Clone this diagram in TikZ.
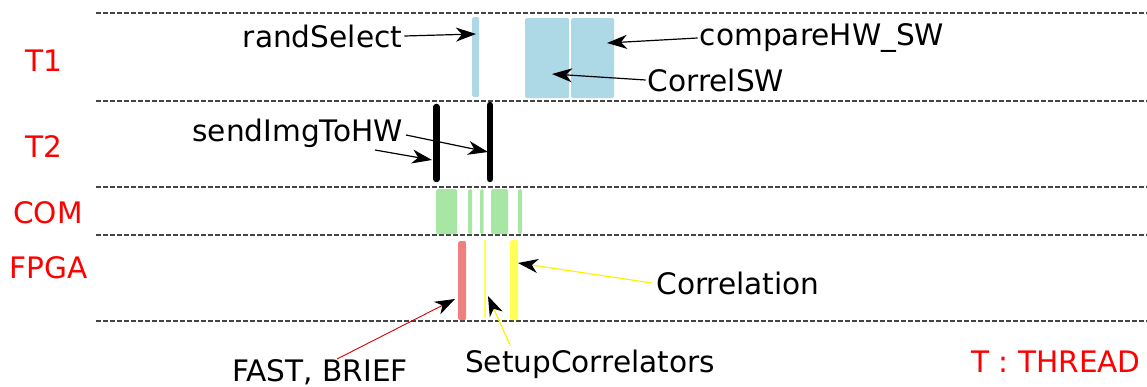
\documentclass[tikz,border=0pt]{standalone}
\usepackage{fontspec}
\setmainfont{DejaVu Sans}
\usetikzlibrary{arrows.meta}
\definecolor{blk}{HTML}{ADD8E6}
\definecolor{grn}{HTML}{A8E6A3}
\definecolor{rd}{HTML}{F08080}
\definecolor{yl}{HTML}{FFFF55}
\definecolor{sep}{HTML}{444444}
\tikzset{
  bar/.style={draw=none, inner sep=0pt, rounded corners=1.5pt, anchor=north west},
  lbl/.style={font=\fontsize{29.6}{30}\selectfont, inner sep=2pt, text=black},
  rlbl/.style={font=\fontsize{29.6}{30}\selectfont, inner sep=0pt, text=red},
  sepline/.style={draw=sep, line width=1.4pt, dash pattern=on 5pt off 2pt},
  arr/.style={-{Stealth[length=20pt,width=14pt,inset=6pt,black]}, line width=1.2pt},
  tline/.style={line width=6.5pt, line cap=round},
}
\begin{document}
\begin{tikzpicture}[x=1pt,y=-1pt]
\useasboundingbox (0,0) rectangle (1147,387);
% separators
\foreach \yy/\nm in {13/s1,101/s2,187/s3,235/s4,321/s5}{
  \coordinate (\nm a) at (96,\yy);
  \coordinate (\nm b) at (1147,\yy);
  \draw[sepline] (\nm a) -- (\nm b);
}
% row labels
\node[rlbl] (lt1) at (43.5,61) {T1};
\node[rlbl] (lt2) at (43.5,147) {T2};
\node[rlbl] (lcom) at (48,213) {COM};
\node[rlbl] (lfpga) at (48.5,268) {FPGA};
\node[rlbl] (lthr) at (1056,362) {T : THREAD};
% T1 bars
\node[bar, fill=blk, minimum width=7pt, minimum height=80pt] (rs) at (472,17) {};
\node[bar, fill=blk, minimum width=44pt, minimum height=80pt] (csw) at (525,18) {};
\node[bar, fill=blk, minimum width=43pt, minimum height=80pt] (chw) at (571,18) {};
% T2 bars
\coordinate (b1t) at (436.5,107);
\coordinate (b1b) at (436.5,179);
\coordinate (b2t) at (490,105);
\coordinate (b2b) at (490,179);
\draw[tline] (b1t) -- (b1b);
\draw[tline] (b2t) -- (b2b);
% COM
\node[bar, fill=grn, minimum width=21pt, minimum height=45pt] (g1) at (436,189) {};
\node[bar, fill=grn, minimum width=4pt, minimum height=45pt] (g2) at (468,189) {};
\node[bar, fill=grn, minimum width=3.5pt, minimum height=45pt] (g3) at (480,189) {};
\node[bar, fill=grn, minimum width=17pt, minimum height=45pt] (g4) at (491,189) {};
\node[bar, fill=grn, minimum width=4pt, minimum height=45pt] (g5) at (518,189) {};
% FPGA
\node[bar, fill=rd, minimum width=8pt, minimum height=79pt] (fb) at (458,241) {};
\node[bar, fill=yl, rounded corners=0pt, minimum width=2pt, minimum height=78pt] (sc) at (484,240) {};
\node[bar, fill=yl, minimum width=8pt, minimum height=80pt] (co) at (510,240) {};
% labels
\node[lbl] (trs) at (322.5,36) {randSelect};
\node[lbl] (tchw) at (822,38) {compareHW\_SW};
\node[lbl] (tcsw) at (716,80) {CorrelSW};
\node[lbl] (tsi) at (297.5,133) {sendImgToHW};
\node[lbl] (tco) at (738,283) {Correlation};
\node[lbl, inner sep=0pt] (tfb) at (320,372) {FAST, BRIEF};
\node[lbl] (tsc) at (590,364) {SetupCorrelators};
% arrow endpoints
\coordinate (ars) at (476,34);
\coordinate (achw) at (607,43);
\coordinate (acsw) at (552,74);
\coordinate (si1s) at (375,150);
\coordinate (si1e) at (432,160);
\coordinate (si2s) at (406,135);
\coordinate (si2e) at (488,152);
\coordinate (cos) at (652,283);
\coordinate (coe) at (518,263);
\coordinate (scs) at (510,345);
\coordinate (sce) at (488,296);
\coordinate (fbs) at (337,359);
\coordinate (fbe) at (455,299);
\draw[arr] (trs.east) -- (ars);
\draw[arr] (tchw.west) -- (achw);
\draw[arr] (tcsw.west) -- (acsw);
\draw[arr] (si1s) -- (si1e);
\draw[arr] (si2s) -- (si2e);
\draw[arr, draw=yellow] (cos) -- (coe);
\draw[arr, draw=yellow] (scs) -- (sce);
\draw[arr, draw=red!85!black, line width=0.9pt] (fbs) -- (fbe);
\end{tikzpicture}
\end{document}
